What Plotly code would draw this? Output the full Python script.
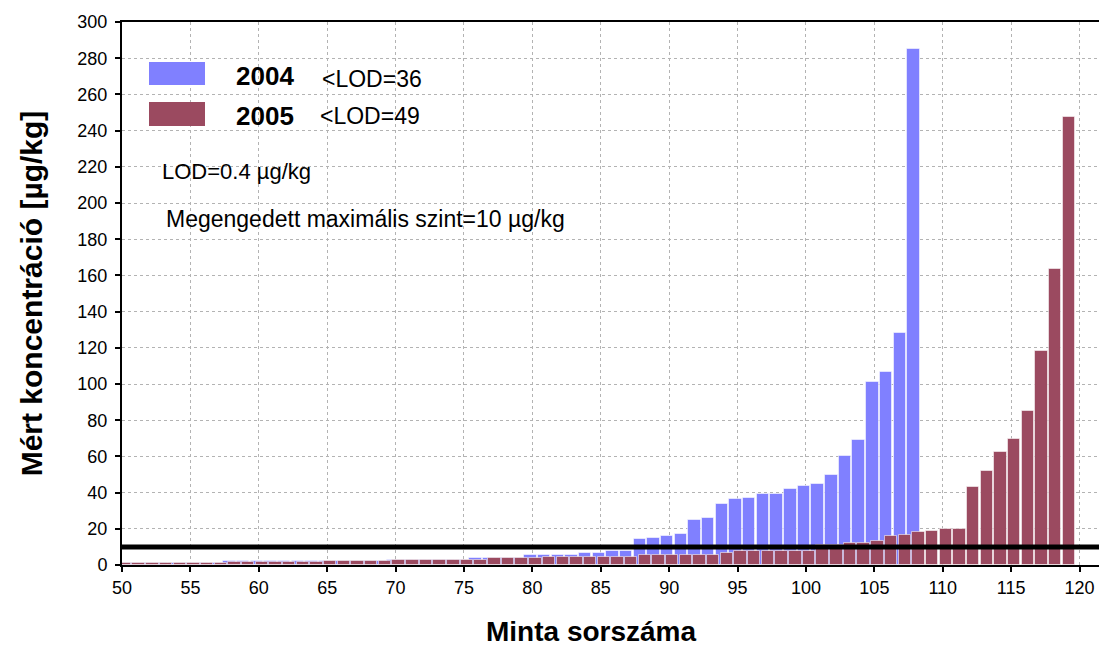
import plotly.graph_objects as go

# Measured concentrations (µg/kg), sorted, sample numbers starting at 50
START_2004 = 50
conc_2004 = [
    1.2, 1.2, 1.2, 1.2, 1.2, 1.2, 1.2, 1.2,          # 50-57
    2.0, 2.0, 2.0, 2.0, 2.0, 2.0, 2.0,               # 58-64
    2.0, 2.0, 2.0, 2.0, 2.0,                         # 65-69
    2.6, 2.6, 2.6, 2.6, 2.6, 2.6,                    # 70-75
    3.85, 3.9, 3.9, 3.9,                             # 76-79
    5.5, 5.5, 5.5, 5.5,                              # 80-83
    6.4, 6.4, 7.6, 7.6,                              # 84-87
    14.2, 15.1, 16.0, 16.9, 25.1, 26.2, 33.5, 36.2,  # 88-95
    36.9, 39.1, 39.1, 41.8, 43.7, 44.5, 50.0, 60.2,  # 96-103
    69.3, 101.3, 106.9, 128.0, 285.0,                # 104-108
]

START_2005 = 50
conc_2005 = [
    1.3, 1.3, 1.3, 1.3, 1.3, 1.3, 1.3, 1.3,          # 50-57
    1.4, 1.4, 1.4, 1.4, 1.4, 1.4, 1.4,               # 58-64
    2.1, 2.1, 2.1, 2.1, 2.1,                         # 65-69
    3.0, 3.0, 3.0, 3.0, 3.0, 3.0, 3.0,               # 70-76
    3.9, 3.9, 3.9, 3.9,                              # 77-80
    4.6, 4.6, 4.6, 4.6, 4.6, 4.6, 4.6,               # 81-87
    5.7, 5.7, 5.7, 5.7, 5.7, 5.7,                    # 88-93
    6.6,                                             # 94
    7.6, 7.6, 7.6, 7.6, 7.6, 7.6,                    # 95-100
    11.3, 11.3, 12.1, 12.1, 13.0, 16.0, 16.8, 18.0,  # 101-108
    18.8, 19.8, 19.8, 43.1, 52.1, 62.3, 69.5, 85.2,  # 109-116
    118.4, 163.7, 247.5,                             # 117-119
]

samples_2004 = list(range(START_2004, START_2004 + len(conc_2004)))
samples_2005 = list(range(START_2005, START_2005 + len(conc_2005)))

LIMIT = 10  # Megengedett maximális szint
x_ticks = [50, 55, 60, 65, 70, 75, 80, 85, 90, 95, 100, 105, 110, 115, 120]
y_ticks = [0, 20, 40, 60, 80, 100, 120, 140, 160, 180, 200, 220, 240, 260, 280, 300]

BLUE = "#8080ff"
RED = "#9b4a60"
FONT = "Liberation Sans, Arial, sans-serif"

fig = go.Figure()
fig.add_trace(go.Bar(
    x=samples_2004, y=conc_2004, name="2004",
    marker=dict(color=BLUE, line=dict(color="rgba(255,255,255,0.55)", width=1)),
    width=0.91, offset=-0.6, showlegend=False,
))
fig.add_trace(go.Bar(
    x=samples_2005, y=conc_2005, name="2005",
    marker=dict(color=RED, line=dict(color="rgba(255,255,255,0.55)", width=1)),
    width=0.91, offset=-0.235, showlegend=False,
))

# page body has an 8px margin: figure is placed at (8, 8) in the window
PAGE = 8
W, H = 1107 - PAGE, 649 - PAGE
L, T = 122 - PAGE, 22 - PAGE
R = W - (1105 - PAGE)
B = H - (565 - PAGE)
PW, PH = W - L - R, H - T - B


def px(xp):  # window pixel -> paper
    return (xp - PAGE - L) / PW


def py(yp):
    return (H - B - (yp - PAGE)) / PH


shapes = [
    dict(type="line", xref="paper", yref="y", x0=0, x1=px(1107), y0=LIMIT, y1=LIMIT,
         line=dict(color="black", width=5), layer="above"),
    dict(type="rect", xref="paper", yref="paper", x0=px(149), x1=px(205), y0=py(85), y1=py(62),
         fillcolor=BLUE, line=dict(width=0)),
    dict(type="rect", xref="paper", yref="paper", x0=px(149), x1=px(205), y0=py(126), y1=py(102),
         fillcolor=RED, line=dict(width=0)),
]

annotations = [
    dict(text="<b>2004</b>", x=px(234), y=py(76), font=dict(size=26)),
    dict(text="&lt;LOD=36", x=px(320), y=py(79), font=dict(size=23)),
    dict(text="<b>2005</b>", x=px(234), y=py(116), font=dict(size=26)),
    dict(text="&lt;LOD=49", x=px(318), y=py(116), font=dict(size=23)),
    dict(text="LOD=0.4 µg/kg", x=px(160), y=py(172), font=dict(size=22)),
    dict(text="Megengedett maximális szint=10 µg/kg", x=px(164), y=py(219), font=dict(size=23)),
]
for a in annotations:
    a.update(xref="paper", yref="paper", xanchor="left", yanchor="middle", showarrow=False)
    a["font"].update(family=FONT, color="black")

# x-axis title (centred as in the reference, left of the plot-area centre)
annotations.append(dict(
    text="<b>Minta sorszáma</b>", x=px(591), y=py(648), xref="paper", yref="paper",
    xanchor="center", yanchor="bottom", showarrow=False, borderpad=0,
    font=dict(size=28, family=FONT, color="black"),
))

fig.update_layout(
    width=W, height=H,
    margin=dict(l=L, r=R, t=T, b=B, autoexpand=False),
    paper_bgcolor="white", plot_bgcolor="white",
    barmode="overlay", bargap=0,
    font=dict(family=FONT, color="black", size=18),
    shapes=shapes, annotations=annotations,
    showlegend=False,
)
fig.update_xaxes(
    range=[50, 121.86], tickvals=x_ticks, ticks="outside", ticklen=5, tickwidth=1.5,
    tickcolor="black", showline=True, linecolor="black", linewidth=2, mirror=True,
    showgrid=True, gridcolor="#b3b3b3", griddash="dot", gridwidth=1,
    tickfont=dict(size=18, family=FONT),
    zeroline=False,
)
fig.update_yaxes(
    range=[0, 300], tickvals=y_ticks, ticks="outside", ticklen=5, tickwidth=1.5,
    tickcolor="black", showline=True, linecolor="black", linewidth=2,
    showgrid=True, gridcolor="#b3b3b3", griddash="dot", gridwidth=1,
    tickfont=dict(size=18, family=FONT), ticklabelstandoff=4,
    title=dict(text="<b>Mért koncentráció [µg/kg]</b>", font=dict(size=30, family=FONT), standoff=26),
    zeroline=False,
)

fig.write_html("out.html")
